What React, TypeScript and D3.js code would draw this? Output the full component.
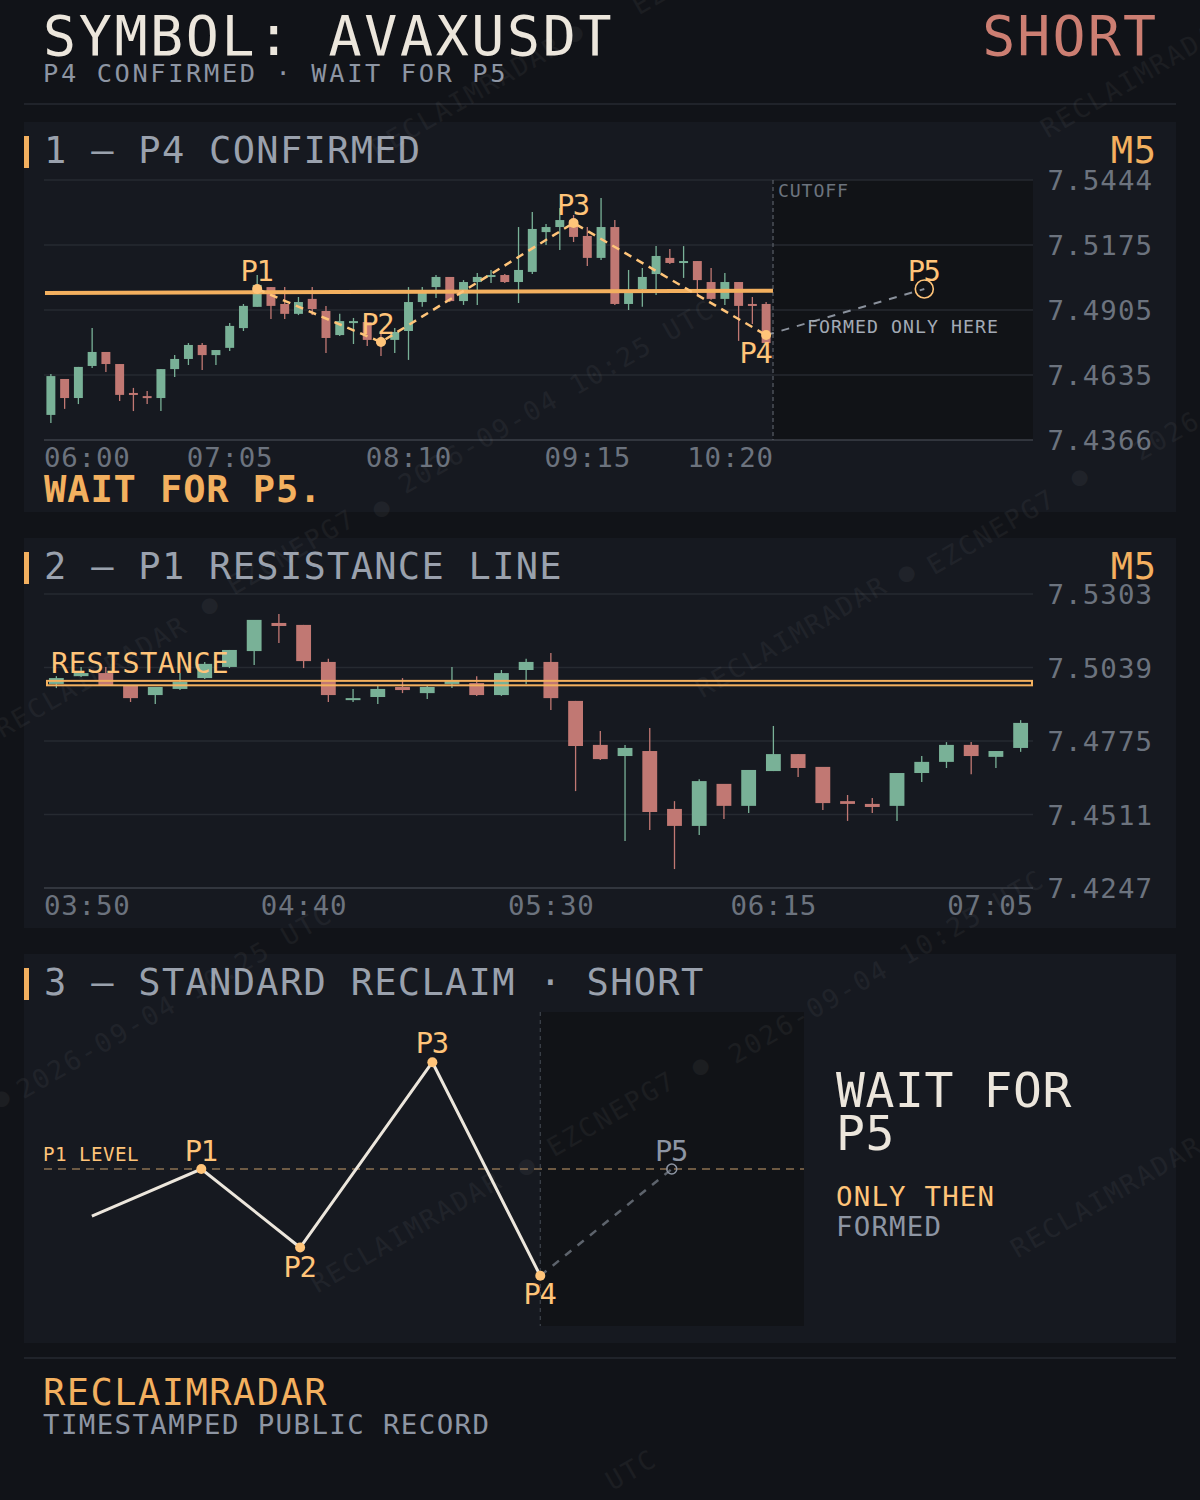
import React from "react";
import * as d3 from "d3";

// ---------------- DATA ----------------
const headerTitle = "SYMBOL: AVAXUSDT";
const headerSub = "P4 CONFIRMED · WAIT FOR P5";
const sideLabel = "SHORT";

// Panel 1 — M5 candles 06:00 .. 10:20
const p1Open = [7.4470, 7.4619, 7.4540, 7.4673, 7.4731, 7.4681, 7.4561, 7.4548, 7.4540, 7.4660,
  7.4702, 7.4760, 7.4718, 7.4748, 7.4830, 7.4918, 7.5000, 7.4930, 7.4889, 7.4951,
  7.4901, 7.4801, 7.4851, 7.4855, 7.4781, 7.4781, 7.4818, 7.4938, 7.5000, 7.5042,
  7.4942, 7.5021, 7.5042, 7.5050, 7.5021, 7.5063, 7.5228, 7.5249, 7.5278, 7.5212,
  7.5121, 7.5249, 7.4930, 7.4992, 7.5054, 7.5121, 7.5100, 7.5108, 7.5021, 7.4951,
  7.5021, 7.4930, 7.4930];
const p1High = [7.4640, 7.4619, 7.4669, 7.4830, 7.4731, 7.4681, 7.4582, 7.4569, 7.4660, 7.4718,
  7.4768, 7.4768, 7.4739, 7.4851, 7.4930, 7.5050, 7.5000, 7.5000, 7.4959, 7.5000,
  7.4922, 7.4889, 7.4872, 7.4855, 7.4810, 7.4830, 7.5000, 7.5000, 7.5050, 7.5042,
  7.5029, 7.5058, 7.5071, 7.5054, 7.5249, 7.5311, 7.5262, 7.5328, 7.5299, 7.5249,
  7.5369, 7.5278, 7.5071, 7.5079, 7.5170, 7.5158, 7.5170, 7.5108, 7.5079, 7.5058,
  7.5021, 7.4959, 7.4938];
const p1Low = [7.4437, 7.4495, 7.4515, 7.4665, 7.4648, 7.4528, 7.4486, 7.4515, 7.4486, 7.4627,
  7.4677, 7.4656, 7.4677, 7.4735, 7.4818, 7.4918, 7.4868, 7.4868, 7.4884, 7.4884,
  7.4727, 7.4797, 7.4764, 7.4756, 7.4714, 7.4727, 7.4698, 7.4918, 7.4955, 7.4938,
  7.4926, 7.4926, 7.5017, 7.5017, 7.4934, 7.5054, 7.5175, 7.5154, 7.5187, 7.5087,
  7.5112, 7.4926, 7.4905, 7.4918, 7.4967, 7.5096, 7.5038, 7.4967, 7.4947, 7.4926,
  7.4777, 7.4847, 7.4768];
const p1Close = [7.4631, 7.4540, 7.4669, 7.4731, 7.4681, 7.4553, 7.4553, 7.4540, 7.4660, 7.4702,
  7.4760, 7.4718, 7.4739, 7.4839, 7.4922, 7.5009, 7.4922, 7.4889, 7.4938, 7.4909,
  7.4789, 7.4859, 7.4859, 7.4781, 7.4764, 7.4814, 7.4938, 7.4988, 7.5042, 7.4942,
  7.5021, 7.5042, 7.5050, 7.5021, 7.5071, 7.5241, 7.5249, 7.5278, 7.5208, 7.5121,
  7.5249, 7.4930, 7.4980, 7.5042, 7.5129, 7.5100, 7.5108, 7.5029, 7.4951, 7.5021,
  7.4922, 7.4922, 7.4768];
const p1TickIdx = [0, 13, 26, 39, 52];
const p1TickLabels = ["06:00", "07:05", "08:10", "09:15", "10:20"];
const p1YTicks = [7.5444, 7.5175, 7.4905, 7.4635, 7.4366];
const p1PivotIdx = [15, 24, 38, 52];
const p1PivotPrice = [7.4992, 7.4772, 7.5266, 7.4801];
const p1PivotLabels = ["P1", "P2", "P3", "P4"];
const p1P5Idx = 63.5;
const p1P5Price = 7.4992;
const p1Resistance = [7.4976, 7.4985];

// Panel 2 — M5 candles 03:50 .. 07:05
const p2Open = [7.4980, 7.5008, 7.5019, 7.4976, 7.4940, 7.4962, 7.5001, 7.5041, 7.5098, 7.5199,
  7.5192, 7.5059, 7.4922, 7.4933, 7.4969, 7.4947, 7.4980, 7.4983, 7.4940, 7.5030,
  7.5059, 7.4919, 7.4761, 7.4721, 7.4739, 7.4531, 7.4470, 7.4621, 7.4542, 7.4667,
  7.4728, 7.4682, 7.4559, 7.4549, 7.4542, 7.4660, 7.4700, 7.4761, 7.4718, 7.4750];
const p2High = [7.5008, 7.5041, 7.5041, 7.4976, 7.4969, 7.5019, 7.5059, 7.5102, 7.5210, 7.5231,
  7.5192, 7.5070, 7.4962, 7.4973, 7.5001, 7.4973, 7.5041, 7.5008, 7.5030, 7.5070,
  7.5091, 7.4919, 7.4811, 7.4761, 7.4822, 7.4559, 7.4638, 7.4621, 7.4671, 7.4829,
  7.4728, 7.4682, 7.4581, 7.4570, 7.4660, 7.4721, 7.4771, 7.4771, 7.4739, 7.4850];
const p2Low = [7.4965, 7.5005, 7.4973, 7.4915, 7.4908, 7.4958, 7.4998, 7.5037, 7.5048, 7.5127,
  7.5037, 7.4915, 7.4915, 7.4908, 7.4947, 7.4926, 7.4965, 7.4937, 7.4937, 7.4980,
  7.4886, 7.4595, 7.4707, 7.4416, 7.4455, 7.4315, 7.4437, 7.4495, 7.4516, 7.4667,
  7.4646, 7.4527, 7.4488, 7.4516, 7.4488, 7.4628, 7.4678, 7.4656, 7.4678, 7.4736];
const p2Close = [7.5001, 7.5019, 7.4973, 7.4929, 7.4969, 7.4987, 7.5052, 7.5102, 7.5210, 7.5188,
  7.5062, 7.4940, 7.4929, 7.4962, 7.4958, 7.4969, 7.4991, 7.4940, 7.5019, 7.5059,
  7.4929, 7.4757, 7.4710, 7.4750, 7.4520, 7.4470, 7.4631, 7.4542, 7.4671, 7.4728,
  7.4678, 7.4552, 7.4549, 7.4538, 7.4660, 7.4700, 7.4761, 7.4721, 7.4739, 7.4840];
const p2TickIdx = [0, 10, 20, 29, 39];
const p2TickLabels = ["03:50", "04:40", "05:30", "06:15", "07:05"];
const p2YTicks = [7.5303, 7.5039, 7.4775, 7.4511, 7.4247];
const p2Zone = [7.4975, 7.4991];

// Panel 3 — schematic (abstract units 0..100)
const schemX = [6.3, 20.7, 33.7, 51.1, 65.3];
const schemY = [35, 50, 25, 84, 16];
const schemLabels = ["", "P1", "P2", "P3", "P4"];
const schemP5 = [82.6, 50];
const schemP1Level = 50;
const schemCutoff = 65.3;

const watermarks = [
  { t: "RECLAIMRADAR", x: 470, y: 105 },
  { t: "EZCNEPG7", x: 700, y: -20 },
  { t: "●", x: 578, y: 40 },
  { t: "RECLAIMRADAR", x: 1140, y: 85 },
  { t: "2026-09-04 10:25 UTC", x: 560, y: 405 },
  { t: "●", x: 385, y: 515 },
  { t: "EZCNEPG7", x: 295, y: 560 },
  { t: "●", x: 213, y: 612 },
  { t: "RECLAIMRADAR", x: 95, y: 685 },
  { t: "RECLAIMRADAR", x: 795, y: 645 },
  { t: "●", x: 910, y: 580 },
  { t: "EZCNEPG7", x: 995, y: 540 },
  { t: "●", x: 1083, y: 484 },
  { t: "2026-09-04 10:25 UTC", x: 1295, y: 372 },
  { t: "2026-09-04 10:25 UTC", x: 178, y: 1010 },
  { t: "2026-09-04 10:25 UTC", x: 890, y: 975 },
  { t: "●", x: 704, y: 1073 },
  { t: "EZCNEPG7", x: 615, y: 1122 },
  { t: "●", x: 530, y: 1173 },
  { t: "●", x: 5, y: 1105 },
  { t: "RECLAIMRADAR", x: 410, y: 1240 },
  { t: "RECLAIMRADAR", x: 1110, y: 1205 },
  { t: "UTC", x: 635, y: 1478 },
];

// ---------------- STYLE ----------------
const COL = {
  page: "#111318",
  panel: "#161920",
  future: "#111317",
  grid: "#262a31",
  axis: "#3c4048",
  cream: "#ece6dc",
  sub: "#8d95a3",
  title: "#9aa1ad",
  tick: "#6c737e",
  orange: "#f3b05f",
  orangeLt: "#ffc479",
  green: "#79b197",
  red: "#c17873",
  short: "#cc7e72",
  dashGray: "#8a919c",
};
const FONT = "'DejaVu Sans Mono', 'Liberation Mono', monospace";

function T({ x, y, cap, cw, fill, anchor = "start", weight = 400, children, transform, opacity }: any) {
  const fs = cap / 0.729;
  const ls = cw - 0.602 * fs;
  const dx = anchor === "end" ? ls : anchor === "middle" ? ls / 2 : 0;
  return (
    <text x={x + dx} y={y} fontFamily={FONT} fontSize={fs} letterSpacing={ls}
      textAnchor={anchor} fill={fill} fontWeight={weight} transform={transform} opacity={opacity}>
      {children}
    </text>
  );
}

function Candles({ open, high, low, close, xb, y }: any) {
  const bw = xb.bandwidth();
  return (
    <g>
      {open.map((o: number, i: number) => {
        const c = close[i];
        const up = c >= o;
        const col = up ? COL.green : COL.red;
        const cx = (xb(i) as number) + bw / 2;
        const top = y(Math.max(o, c));
        const bot = y(Math.min(o, c));
        const h = Math.max(2, bot - top);
        return (
          <g key={i}>
            <line x1={cx} x2={cx} y1={y(high[i])} y2={y(low[i])} stroke={col} strokeWidth={1.3} />
            <rect x={cx - bw / 2} y={top} width={bw} height={h} fill={col} />
          </g>
        );
      })}
    </g>
  );
}

function XTicks({ idx, labels, xc, left, right, y }: any) {
  const cw = 17.3;
  return (
    <g>
      {idx.map((ii: number, k: number) => {
        const c = xc(ii);
        const w = labels[k].length * cw;
        let anchor = "middle";
        let x = c;
        if (c - w / 2 < left) { anchor = "start"; x = left; }
        else if (c + w / 2 > right) { anchor = "end"; x = right; }
        return <T key={k} x={x} y={y} cap={20} cw={cw} fill={COL.tick} anchor={anchor}>{labels[k]}</T>;
      })}
    </g>
  );
}

function YTicks({ ticks, y, left, right, labelX, bottomAxis }: any) {
  return (
    <g>
      {ticks.map((t: number, k: number) => (
        <g key={k}>
          <line x1={left} x2={right} y1={y(t)} y2={y(t)}
            stroke={k === ticks.length - 1 ? COL.axis : COL.grid} strokeWidth={1.5} />
          <T x={labelX} y={y(t) + 10} cap={20} cw={17.6} fill={COL.tick} anchor="end">{t.toFixed(4)}</T>
        </g>
      ))}
    </g>
  );
}

function PanelFrame({ y0, y1, title, tf }: any) {
  return (
    <g>
      <rect x={24} y={y0} width={1152} height={y1 - y0} fill={COL.panel} />
      <rect x={24} y={y0 + 14} width={5} height={32} fill={COL.orange} />
      <T x={44} y={y0 + 41} cap={27} cw={23.6} fill={COL.title}>{title}</T>
      <T x={1156} y={y0 + 41} cap={27} cw={23} fill={COL.orange} anchor="end">{tf}</T>
    </g>
  );
}

export default function App() {
  // ---- Panel 1 scales ----
  const p1L = 44, p1Cut = 773, p1R = 1033, p1T = 180, p1B = 440;
  const xb1 = d3.scaleBand<number>().domain(d3.range(p1Open.length)).range([p1L, p1Cut])
    .paddingInner(0.35).paddingOuter(0.175);
  const xc1 = (i: number) => p1L + xb1.step() * 0.175 + xb1.step() * 0.65 / 2 + i * xb1.step() - 0 + (xb1.step() * 0.325 - xb1.step() * 0.325);
  const xcen1 = (i: number) => (xb1(0) as number) + xb1.bandwidth() / 2 + i * xb1.step();
  const y1 = d3.scaleLinear().domain([p1YTicks[4], p1YTicks[0]]).range([p1B, p1T]);

  // ---- Panel 2 scales ----
  const p2L = 44, p2R = 1033, p2T = 594, p2B = 888;
  const xb2 = d3.scaleBand<number>().domain(d3.range(p2Open.length)).range([p2L, p2R])
    .paddingInner(0.4).paddingOuter(0.2);
  const xcen2 = (i: number) => (xb2(0) as number) + xb2.bandwidth() / 2 + i * xb2.step();
  const y2 = d3.scaleLinear().domain([p2YTicks[4], p2YTicks[0]]).range([p2B, p2T]);

  // ---- Panel 3 scales ----
  const x3 = d3.scaleLinear().domain([0, 100]).range([44, 804]);
  const y3 = d3.scaleLinear().domain([0, 100]).range([1326, 1012]);

  const zig1 = d3.line<number>().x((_, k) => xcen1(p1PivotIdx[k])).y((d) => y1(d))(p1PivotPrice) || "";
  const resLine = d3.line<number>().x((_, k) => (k === 0 ? 45 : p1Cut)).y((d) => y1(d))(p1Resistance) || "";
  const schemPath = d3.line<number>().x((d) => x3(d)).y((_, k) => y3(schemY[k]))(schemX) || "";

  const p4x = xcen1(p1PivotIdx[3]), p4y = y1(p1PivotPrice[3]);
  const p5x = xcen1(p1P5Idx), p5y = y1(p1P5Price);

  const p1LabelDx = [0, -3, 0, -10];
  const p1LabelDy = [-8, -8, -8, 28];
  const s3LabelDy = [0, -8, 29, -9, 28];

  return (
    <svg width={1200} height={1500} style={{ display: "block", margin: 0, position: "absolute", left: 0, top: 0 }}>
      <rect x={0} y={0} width={1200} height={1500} fill={COL.page} />

      {/* Header */}
      <T x={43} y={55} cap={40} cw={35.7} fill={COL.cream}>{headerTitle}</T>
      <T x={43} y={82} cap={18.5} cw={17.9} fill={COL.sub}>{headerSub}</T>
      <T x={1156} y={55} cap={40} cw={35.2} fill={COL.short} anchor="end">{sideLabel}</T>
      <line x1={24} x2={1176} y1={104} y2={104} stroke={COL.grid} strokeWidth={1.5} />

      {/* Panel backgrounds */}
      <PanelFrame y0={122} y1={512} title="1 — P4 CONFIRMED" tf="M5" />
      <PanelFrame y0={538} y1={928} title="2 — P1 RESISTANCE LINE" tf="M5" />
      <PanelFrame y0={954} y1={1343} title="3 — STANDARD RECLAIM · SHORT" tf="" />

      {/* future zones */}
      <rect x={p1Cut} y={p1T} width={p1R - p1Cut} height={p1B - p1T} fill={COL.future} />
      <rect x={x3(schemCutoff)} y={1012} width={x3(100) - x3(schemCutoff)} height={314} fill={COL.future} />

      {/* grids */}
      <YTicks ticks={p1YTicks} y={y1} left={p1L} right={p1R} labelX={1152} />
      <YTicks ticks={p2YTicks} y={y2} left={p2L} right={p2R} labelX={1152} />

      {/* watermarks */}
      <g>
        {watermarks.map((w, k) => (
          <T key={k} x={w.x} y={w.y} cap={19} cw={18} fill="#ffffff" opacity={0.045} anchor="middle"
            transform={`rotate(-30 ${w.x} ${w.y})`}>{w.t}</T>
        ))}
      </g>

      {/* ===== Panel 1 ===== */}
      <line x1={p1Cut} x2={p1Cut} y1={p1T} y2={p1B} stroke="#5a5f68" strokeWidth={1.2} strokeDasharray="4 3" />
      <T x={778} y={197} cap={13.3} cw={11.8} fill={COL.tick}>CUTOFF</T>
      <Candles open={p1Open} high={p1High} low={p1Low} close={p1Close} xb={xb1} y={y1} />
      <path d={resLine} stroke={COL.orange} strokeWidth={4} fill="none" />
      <path d={zig1} stroke={COL.orangeLt} strokeWidth={2.5} strokeDasharray="8 6" fill="none" />
      <line x1={p4x} y1={p4y} x2={p5x} y2={p5y} stroke={COL.dashGray} strokeWidth={2} strokeDasharray="8 8" />
      {p1PivotIdx.map((ii, k) => (
        <circle key={k} cx={xcen1(ii)} cy={y1(p1PivotPrice[k])} r={5} fill={COL.orangeLt} />
      ))}
      <circle cx={p5x} cy={p5y} r={9} fill="none" stroke={COL.orangeLt} strokeWidth={1.6} />
      {p1PivotIdx.map((ii, k) => (
        <T key={k} x={xcen1(ii) + p1LabelDx[k]} y={y1(p1PivotPrice[k]) + p1LabelDy[k]} cap={21} cw={16}
          fill={COL.orangeLt} anchor="middle">{p1PivotLabels[k]}</T>
      ))}
      <T x={p5x} y={p5y - 8} cap={21} cw={16} fill={COL.orangeLt} anchor="middle">P5</T>
      <T x={807} y={333} cap={13.3} cw={12} fill="#a3aab5">FORMED ONLY HERE</T>
      <XTicks idx={p1TickIdx} labels={p1TickLabels} xc={xcen1} left={p1L} right={p1Cut} y={467} />
      <T x={44} y={502} cap={27} cw={23.2} fill={COL.orange} weight={700}>WAIT FOR P5.</T>

      {/* ===== Panel 2 ===== */}
      <Candles open={p2Open} high={p2High} low={p2Low} close={p2Close} xb={xb2} y={y2} />
      <rect x={47} y={y2(p2Zone[1])} width={1032 - 47} height={y2(p2Zone[0]) - y2(p2Zone[1])}
        fill="none" stroke={COL.orange} strokeWidth={2} />
      <T x={51} y={673} cap={21} cw={17.8} fill={COL.orangeLt}>RESISTANCE</T>
      <XTicks idx={p2TickIdx} labels={p2TickLabels} xc={xcen2} left={p2L} right={p2R} y={915} />

      {/* ===== Panel 3 ===== */}
      <line x1={x3(schemCutoff)} x2={x3(schemCutoff)} y1={1012} y2={1326} stroke="#3f444c" strokeWidth={1.2} strokeDasharray="4 4" />
      <line x1={x3(0)} x2={x3(100)} y1={y3(schemP1Level)} y2={y3(schemP1Level)} stroke="#8c7252" strokeWidth={1.5} strokeDasharray="8 6" />
      <T x={43} y={1161} cap={14} cw={12} fill={COL.orangeLt}>P1 LEVEL</T>
      <path d={schemPath} stroke={COL.cream} strokeWidth={3} fill="none" />
      <line x1={x3(schemX[4])} y1={y3(schemY[4])} x2={x3(schemP5[0])} y2={y3(schemP5[1])}
        stroke="#5d636c" strokeWidth={2.5} strokeDasharray="8 8" />
      {schemX.map((sx, k) => k === 0 ? null : (
        <circle key={k} cx={x3(sx)} cy={y3(schemY[k])} r={5} fill={COL.orangeLt} />
      ))}
      <circle cx={x3(schemP5[0])} cy={y3(schemP5[1])} r={5} fill="none" stroke={COL.sub} strokeWidth={1.5} />
      {schemX.map((sx, k) => k === 0 ? null : (
        <T key={k} x={x3(sx)} y={y3(schemY[k]) + s3LabelDy[k]} cap={21} cw={16} fill={COL.orangeLt} anchor="middle">{schemLabels[k]}</T>
      ))}
      <T x={x3(schemP5[0])} y={y3(schemP5[1]) - 8} cap={21} cw={16} fill={COL.sub} anchor="middle">P5</T>

      <T x={836} y={1107} cap={35} cw={29.5} fill={COL.cream}>WAIT FOR</T>
      <T x={836} y={1150} cap={35} cw={29.5} fill={COL.cream}>P5</T>
      <T x={836} y={1206} cap={20} cw={17.7} fill={COL.orangeLt}>ONLY THEN</T>
      <T x={836} y={1236} cap={20} cw={17.7} fill={COL.sub}>FORMED</T>

      {/* Footer */}
      <line x1={24} x2={1176} y1={1358} y2={1358} stroke={COL.grid} strokeWidth={1.5} />
      <T x={43} y={1405} cap={27} cw={23.75} fill={COL.orange}>RECLAIMRADAR</T>
      <T x={43} y={1434} cap={20} cw={17.9} fill={COL.sub}>TIMESTAMPED PUBLIC RECORD</T>
    </svg>
  );
}
